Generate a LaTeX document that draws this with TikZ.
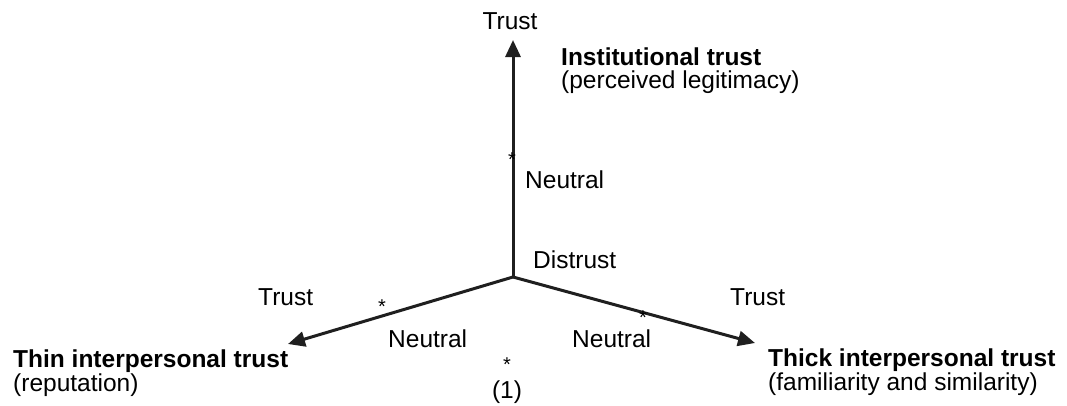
\documentclass[tikz,border=0pt]{standalone}
\usepackage{fontspec}
\setmainfont{Liberation Sans}
\usetikzlibrary{arrows.meta}
\begin{document}
\begin{tikzpicture}[x=1pt,y=-1pt,
 axis/.style={line width=3pt,-{Triangle[length=17pt,width=15pt]},draw=black!88,fill=black!88},
 lbl/.style={anchor=base west,inner sep=0pt,font=\fontsize{24.5}{28}\selectfont},
 ttl/.style={anchor=base west,inner sep=0pt,font=\fontsize{24.5}{28}\selectfont\bfseries},
 starmark/.style={anchor=base,inner sep=0pt,font=\fontsize{20}{22}\selectfont}]
\useasboundingbox (0,0) rectangle (1067,405);
\coordinate (O) at (513,277);
\coordinate (top) at (513,40);
\coordinate (left) at (288,344);
\coordinate (right) at (755,343);
\draw[axis] (O) -- (top);
\draw[axis] (O) -- (left);
\draw[axis] (O) -- (right);
% labels
\node[lbl,anchor=base] (ttop) at (510,29) {Trust};
\node[ttl] (inst) at (561,65) {Institutional trust};
\node[lbl] (instsub) at (561,88) {(perceived legitimacy)};
\node[lbl] (nv) at (525,188) {Neutral};
\node[lbl] (dis) at (533,268) {Distrust};
\node[lbl] (tl) at (258,305) {Trust};
\node[lbl] (nl) at (388,347) {Neutral};
\node[ttl] (thin) at (13,367) {Thin interpersonal trust};
\node[lbl] (thinsub) at (13,391) {(reputation)};
\node[lbl,anchor=base] (one) at (507,398) {(1)};
\node[lbl] (nr) at (572,347) {Neutral};
\node[lbl] (tr) at (730,305) {Trust};
\node[ttl] (thick) at (768,366) {Thick interpersonal trust};
\node[lbl] (thicksub) at (768,390) {(familiarity and similarity)};
% stars
\node[starmark] (sv) at (512,166) {*};
\node[starmark] (sl) at (382,313) {*};
\node[starmark] (sr) at (643,324) {*};
\node[starmark] (sb) at (507,371) {*};
\end{tikzpicture}
\end{document}
